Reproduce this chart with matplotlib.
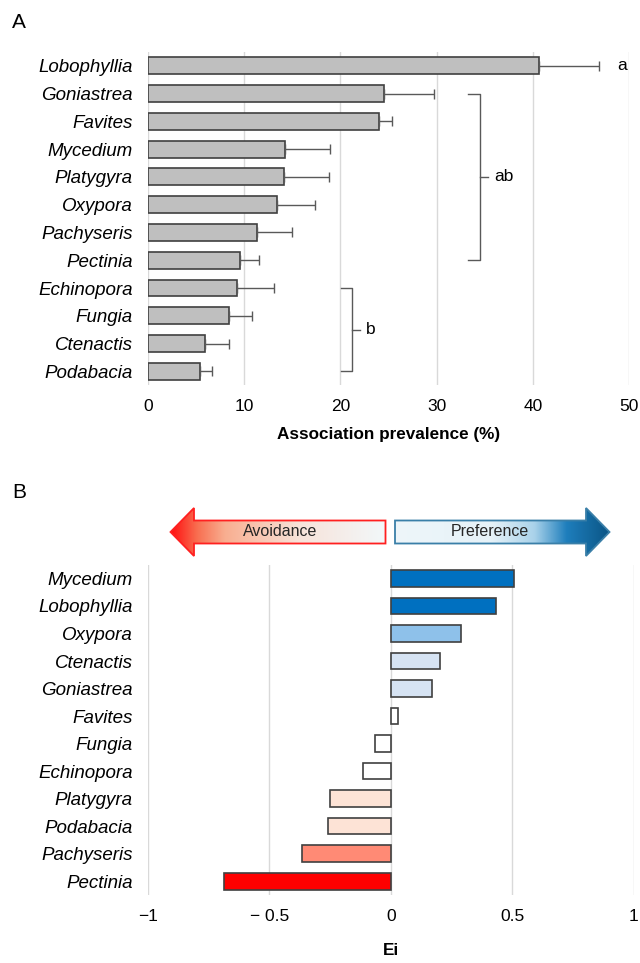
import numpy as np
import matplotlib
matplotlib.use('Agg')
import matplotlib.pyplot as plt
from matplotlib.colors import LinearSegmentedColormap
from matplotlib.patches import Polygon

plt.rcParams['font.family'] = ['Liberation Sans', 'DejaVu Sans']

# Panel A data: association prevalence (%)
genera_a = ['Lobophyllia', 'Goniastrea', 'Favites', 'Mycedium', 'Platygyra', 'Oxypora',
            'Pachyseris', 'Pectinia', 'Echinopora', 'Fungia', 'Ctenactis', 'Podabacia']
prev = [40.6, 24.5, 24.0, 14.3, 14.1, 13.4, 11.3, 9.6, 9.3, 8.4, 5.9, 5.4]
prev_err = [6.3, 5.2, 1.4, 4.6, 4.7, 4.0, 3.7, 1.9, 3.8, 2.4, 2.5, 1.3]

# Panel B data: electivity index Ei
genera_b = ['Mycedium', 'Lobophyllia', 'Oxypora', 'Ctenactis', 'Goniastrea', 'Favites',
            'Fungia', 'Echinopora', 'Platygyra', 'Podabacia', 'Pachyseris', 'Pectinia']
ei = [0.508, 0.435, 0.291, 0.202, 0.172, 0.031, -0.065, -0.116, -0.249, -0.260, -0.367, -0.688]
ei_colors = ['#0070C0', '#0070C0', '#8EC1EA', '#D6E3F3', '#D6E3F3', 'white',
             'white', 'white', '#FDE3D6', '#FDE3D6', '#FF8A75', '#FF0000']

fig = plt.figure(figsize=(6.4, 9.63), dpi=100)

grid_c = '#D9D9D9'
line_c = '#595959'
fs_y = 13.5   # italic genus labels
fs = 12.5     # numbers and letters

# ---- Panel A ----
axA = fig.add_axes([0.231, 0.600, 0.752, 0.346])
ya = np.arange(len(genera_a))
axA.barh(ya, prev, height=0.61, color='#BFBFBF', edgecolor='#404040', linewidth=1.2, zorder=3)
axA.errorbar(prev, ya, xerr=[np.zeros(len(prev)), prev_err], fmt='none',
             ecolor=line_c, elinewidth=1, capsize=3.5, capthick=1, zorder=4)
axA.set_xlim(0, 50)
axA.set_ylim(len(genera_a) - 0.5, -0.5)
axA.set_xticks([0, 10, 20, 30, 40, 50])
axA.set_yticks(ya)
axA.set_yticklabels(genera_a, fontstyle='italic', fontsize=fs_y)
axA.tick_params(axis='y', length=0, pad=11)
axA.tick_params(axis='x', length=0, labelsize=fs, pad=10)
axA.grid(axis='x', color=grid_c, linewidth=1, zorder=0)
for s in axA.spines.values():
    s.set_visible(False)
axA.set_xlabel('Association prevalence (%)', fontsize=12.3, fontweight='bold', labelpad=9)

# significance letters and brackets
axA.text(49.3, 0, 'a', fontsize=fs, va='center', ha='center')
bx, bl = 34.5, 33.3
axA.plot([bl, bx, bx, bl], [1, 1, 7, 7], color=line_c, lw=1, clip_on=False)
axA.plot([bx, bx + 0.8], [4, 4], color=line_c, lw=1, clip_on=False)
axA.text(bx + 1.5, 4, 'ab', fontsize=fs, va='center')
cx, cl = 21.2, 20.1
axA.plot([cl, cx, cx, cl], [8, 8, 11, 11], color=line_c, lw=1, clip_on=False)
axA.plot([cx, cx + 0.8], [9.5, 9.5], color=line_c, lw=1, clip_on=False)
axA.text(cx + 1.5, 9.5, 'b', fontsize=fs, va='center')

# ---- Panel B ----
axB = fig.add_axes([0.231, 0.0706, 0.759, 0.343])
yb = np.arange(len(genera_b))
axB.barh(yb, ei, height=0.6, color=ei_colors, edgecolor='#404040', linewidth=1.2, zorder=3)
axB.set_xlim(-1, 1)
axB.set_ylim(len(genera_b) - 0.5, -0.5)
axB.set_xticks([-1, -0.5, 0, 0.5, 1])
axB.set_xticklabels(['\u22121', '\u2212 0.5', '0', '0.5', '1'])
axB.set_yticks(yb)
axB.set_yticklabels(genera_b, fontstyle='italic', fontsize=fs_y)
axB.tick_params(axis='y', length=0, pad=11)
axB.tick_params(axis='x', length=0, labelsize=fs, pad=10)
axB.grid(axis='x', color=grid_c, linewidth=1, zorder=0)
for s in axB.spines.values():
    s.set_visible(False)
axB.set_xlabel('Ei', fontsize=12.3, fontweight='bold', labelpad=14)

# ---- overlay: panel letters and gradient arrows (pixel coordinates) ----
ov = fig.add_axes([0, 0, 1, 1], zorder=10)
ov.set_xlim(0, 640)
ov.set_ylim(963, 0)
ov.axis('off')
ov.patch.set_alpha(0)

ov.text(12, 22, 'A', fontsize=15, va='center', ha='left')
ov.text(12, 492, 'B', fontsize=15, va='center', ha='left')

bt, bb, ht, hb, ym = 520.5, 543.5, 508, 556, 532

def grad_arrow(pts, x0, x1, cmap, edge):
    poly = Polygon(pts, closed=True, facecolor='none', edgecolor=edge, lw=1.3, zorder=3)
    ov.add_patch(poly)
    g = np.linspace(0, 1, 256).reshape(1, -1)
    im = ov.imshow(g, cmap=cmap, aspect='auto', extent=[x0, x1, hb, ht], zorder=2)
    im.set_clip_path(poly)

red_cmap = LinearSegmentedColormap.from_list('av', [(0, '#FF1010'), (0.12, '#F86E50'),
                                                   (0.25, '#F9AE90'), (0.6, '#F7E3DA'),
                                                   (1, '#F2F8FA')])
blue_cmap = LinearSegmentedColormap.from_list('pr', [(0, '#EEF6FA'), (0.45, '#E6F2F8'),
                                                    (0.65, '#A9D2EA'), (0.8, '#1E7EBC'),
                                                    (1, '#0B5585')])

av_pts = [(170.5, ym), (194, ht), (194, bt), (385.5, bt), (385.5, bb), (194, bb), (194, hb)]
grad_arrow(av_pts, 170.5, 385.5, red_cmap, '#FF2020')
pr_pts = [(395, bt), (586, bt), (586, ht), (609.5, ym), (586, hb), (586, bb), (395, bb)]
grad_arrow(pr_pts, 395, 609.5, blue_cmap, '#3A7FA8')

ov.text(280, ym, 'Avoidance', fontsize=11.5, va='center', ha='center', color='#262626')
ov.text(490, ym, 'Preference', fontsize=11.5, va='center', ha='center', color='#262626')

fig.savefig('out.png', dpi=100)
